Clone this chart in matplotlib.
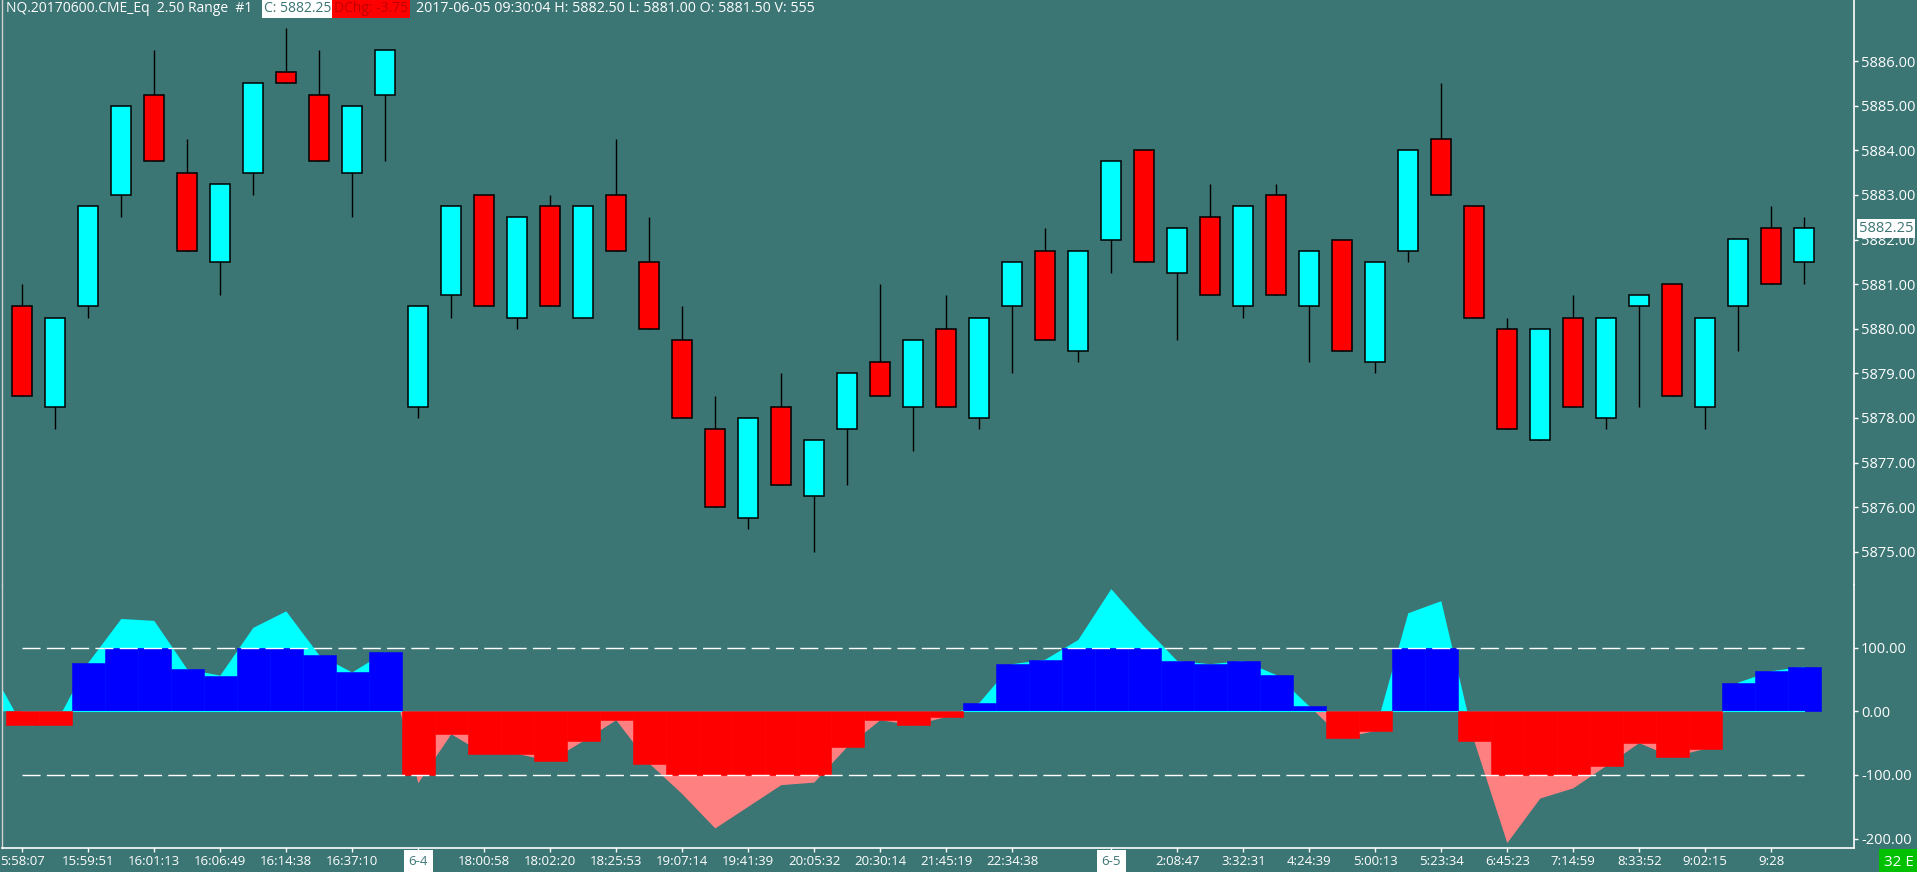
import numpy as np
import matplotlib
matplotlib.use('Agg')
import matplotlib.pyplot as plt

plt.rcParams['font.family'] = ['Open Sans', 'DejaVu Sans']

BG = '#3B7574'
UP = '#00FFFF'
DN = '#FF0000'
OSC_UP_BAR = '#0000FF'
OSC_DN_FILL = '#FF8080'

# ---- price bars (2.50 range bars) ----
opens = [5880.5, 5878.25, 5880.5, 5883.0, 5885.25, 5883.5, 5881.5, 5883.5, 5885.75, 5885.25,
         5883.5, 5885.25, 5878.25, 5880.75, 5883.0, 5880.25, 5882.75, 5880.25, 5883.0, 5881.5,
         5879.75, 5877.75, 5875.75, 5878.25, 5876.25, 5877.75, 5879.25, 5878.25, 5880.0, 5878.0,
         5880.5, 5881.75, 5879.5, 5882.0, 5884.0, 5881.25, 5882.5, 5880.5, 5883.0, 5880.5,
         5882.0, 5879.25, 5881.75, 5884.25, 5882.75, 5880.0, 5877.5, 5880.25, 5878.0, 5880.5,
         5881.0, 5878.25, 5880.5, 5882.25, 5881.5]
highs = [5881.0, 5880.25, 5882.75, 5885.0, 5886.25, 5884.25, 5883.25, 5885.5, 5886.75, 5886.25,
         5885.0, 5886.25, 5880.5, 5882.75, 5883.0, 5882.5, 5883.0, 5882.75, 5884.25, 5882.5,
         5880.5, 5878.5, 5878.0, 5879.0, 5877.5, 5879.0, 5881.0, 5879.75, 5880.75, 5880.25,
         5881.5, 5882.25, 5881.75, 5883.75, 5884.0, 5882.25, 5883.25, 5882.75, 5883.25, 5881.75,
         5882.0, 5881.5, 5884.0, 5885.5, 5882.75, 5880.25, 5880.0, 5880.75, 5880.25, 5880.75,
         5881.0, 5880.25, 5882.0, 5882.75, 5882.5]
lows = [5878.5, 5877.75, 5880.25, 5882.5, 5883.75, 5881.75, 5880.75, 5883.0, 5885.5, 5883.75,
        5882.5, 5883.75, 5878.0, 5880.25, 5880.5, 5880.0, 5880.5, 5880.25, 5881.75, 5880.0,
        5878.0, 5876.0, 5875.5, 5876.5, 5875.0, 5876.5, 5878.5, 5877.25, 5878.25, 5877.75,
        5879.0, 5879.75, 5879.25, 5881.25, 5881.5, 5879.75, 5880.75, 5880.25, 5880.75, 5879.25,
        5879.5, 5879.0, 5881.5, 5883.0, 5880.25, 5877.75, 5877.5, 5878.25, 5877.75, 5878.25,
        5878.5, 5877.75, 5879.5, 5881.0, 5881.0]
closes = [5878.5, 5880.25, 5882.75, 5885.0, 5883.75, 5881.75, 5883.25, 5885.5, 5885.5, 5883.75,
          5885.0, 5886.25, 5880.5, 5882.75, 5880.5, 5882.5, 5880.5, 5882.75, 5881.75, 5880.0,
          5878.0, 5876.0, 5878.0, 5876.5, 5877.5, 5879.0, 5878.5, 5879.75, 5878.25, 5880.25,
          5881.5, 5879.75, 5881.75, 5883.75, 5881.5, 5882.25, 5880.75, 5882.75, 5880.75, 5881.75,
          5879.5, 5881.5, 5884.0, 5883.0, 5880.25, 5877.75, 5880.0, 5878.25, 5880.25, 5880.75,
          5878.5, 5880.25, 5882.0, 5881.0, 5882.25]

# ---- oscillator (value of the bar before the first visible one, then one per bar) ----
osc_prev = 72
osc = [-22, -21, 76, 145, 142, 66, 56, 131, 157, 88,
       61, 93, -113, -36, -67, -67, -78, -47, -14, -82,
       -130, -184, -150, -116, -112, -56, -14, -22, -9, 13,
       74, 81, 112, 192, 133, 79, 74, 79, 57, 8,
       -42, -31, 154, 173, -47, -207, -137, -121, -86, -50,
       -72, -59, 45, 63, 70]
osc_levels = [100, -100]

price_ticks = [5875, 5876, 5877, 5878, 5879, 5880, 5881, 5882, 5883, 5884, 5885, 5886]
osc_ticks = [100, 0, -100, -200]
osc_tick_labels = ['100.00', '0.00', '-100.00', '-200.00']

time_pos = [0, 2, 4, 6, 8, 10, 12, 14, 16, 18, 20, 22, 24, 26, 28, 30, 33,
            35, 37, 39, 41, 43, 45, 47, 49, 51, 53]
time_labels = ['5:58:07', '15:59:51', '16:01:13', '16:06:49', '16:14:38', '16:37:10', '6-4',
               '18:00:58', '18:02:20', '18:25:53', '19:07:14', '19:41:39', '20:05:32',
               '20:30:14', '21:45:19', '22:34:38', '6-5', '2:08:47', '3:32:31', '4:24:39',
               '5:00:13', '5:23:34', '6:45:23', '7:14:59', '8:33:52', '9:02:15', '9:28']
session_labels = ['6-4', '6-5']

header_main = 'NQ.20170600.CME_Eq  2.50 Range  #1'
header_close = 'C: 5882.25'
header_chg = 'DChg: -3.75'
header_rest = '2017-06-05 09:30:04 H: 5882.50 L: 5881.00 O: 5881.50 V: 555'
status_text = '32 E'

# ---- layout ----
W, H = 1917, 872
fig = plt.figure(figsize=(W / 100, H / 100), dpi=100, facecolor=BG)

def fx(px):
    return px / W

def fy(py):
    return 1 - py / H

L, R = 1.5, 1854.0
split, bot = 585.0, 848.0
ax1 = fig.add_axes([fx(L), fy(split), fx(R) - fx(L), split / H])
ax2 = fig.add_axes([fx(L), fy(bot), fx(R) - fx(L), (bot - split) / H], sharex=ax1)
for ax in (ax1, ax2):
    ax.set_facecolor(BG)

n = len(opens)
x = np.arange(n)
o = np.array(opens); c = np.array(closes); h = np.array(highs); l = np.array(lows)
up = c >= o
cols = np.where(up, UP, DN)

ax1.vlines(x, l, h, color='black', lw=1.0, zorder=2)
ax1.bar(x, np.abs(c - o), bottom=np.minimum(o, c), width=0.6, color=cols,
        edgecolor='black', linewidth=1.1, zorder=3)

px_per_pt = 44.6
ax1.set_ylim(5886 - (split - 61.1) / px_per_pt, 5886 + 61.1 / px_per_pt)
ax1.set_xlim((L - 22.3) / 33, (R - 22.3) / 33)

# oscillator
xo = np.arange(-1, n)
vo = np.array([osc_prev] + osc, dtype=float)
ax2.fill_between(xo, vo, 0, where=vo >= 0, interpolate=True, color=UP, lw=0, zorder=1)
ax2.fill_between(xo, vo, 0, where=vo <= 0, interpolate=True, color=OSC_DN_FILL, lw=0, zorder=1)
vb = np.clip(np.array(osc, dtype=float), -100, 100)
pos = vb > 0
ax2.bar(x[pos], vb[pos], width=1.0, color=OSC_UP_BAR, edgecolor=OSC_UP_BAR, lw=0.4, zorder=2)
ax2.plot([0, n - 1], [0, 0], color=UP, lw=0.8, zorder=3)
ax2.bar(x[~pos], vb[~pos], width=1.0, color=DN, edgecolor=DN, lw=0.4, zorder=4)
for lvl in osc_levels:
    ax2.plot([0, n - 1], [lvl, lvl], color='white', lw=1.0, dashes=(13, 4.5), zorder=5)

pxu = 0.6367
ax2.set_ylim((711.3 - bot) / pxu, (711.3 - split) / pxu)

# axes styling
for ax in (ax1, ax2):
    ax.yaxis.tick_right()
    ax.spines['top'].set_visible(False)
    ax.spines['left'].set_color('#D0D0D0')
    ax.spines['right'].set_color('white')
    ax.spines['left'].set_linewidth(1.0)
    ax.spines['right'].set_linewidth(1.2)
    ax.tick_params(axis='y', colors='white', labelcolor='white', length=3, width=1,
                   labelsize=10.5, pad=2)
ax1.spines['bottom'].set_visible(False)
ax2.spines['bottom'].set_color('white')
ax2.spines['bottom'].set_linewidth(1.2)

ax1.set_yticks(price_ticks)
ax1.set_yticklabels([f'{p:.2f}' for p in price_ticks])
ax1.tick_params(axis='x', bottom=False, labelbottom=False)

ax2.set_yticks(osc_ticks)
ax2.set_yticklabels(osc_tick_labels)
ax2.set_xticks(time_pos)
ax2.set_xticklabels(time_labels)
ax2.tick_params(axis='x', colors='white', labelcolor='white', length=3, width=1,
                labelsize=9.5, pad=2)
for lab in ax2.get_xticklabels():
    if lab.get_text() in session_labels:
        lab.set_color(BG)
        lab.set_bbox(dict(boxstyle='square,pad=0.35', fc='white', ec='none'))

# last price marker
ax1.annotate(f'{closes[-1]:.2f}', xy=(1.0, closes[-1]), xycoords=('axes fraction', 'data'),
             xytext=(3.5, 0), textcoords='offset points', va='center', ha='left',
             fontsize=10.5, color=BG, zorder=10, annotation_clip=False,
             bbox=dict(boxstyle='square,pad=0.12', fc='white', ec='none'))

# header
hy = fy(8.5)
fig.text(fx(6), hy, header_main, color='white', fontsize=10, va='center', ha='left')
fig.text(fx(264), hy, header_close, color=BG, fontsize=10, va='center', ha='left',
         bbox=dict(boxstyle='square,pad=0.15', fc='white', ec='none'))
fig.text(fx(334), hy, header_chg, color='#C00000', fontsize=10, va='center', ha='left',
         bbox=dict(boxstyle='square,pad=0.15', fc=DN, ec='none'))
fig.text(fx(416), hy, header_rest, color='white', fontsize=10.3, va='center', ha='left')

fig.text(fx(1899), fy(862), status_text, color='white', fontsize=11, va='center', ha='center',
         bbox=dict(boxstyle='square,pad=0.35', fc='#00C000', ec='none'))

fig.savefig('out.png', dpi=100, facecolor=BG)
